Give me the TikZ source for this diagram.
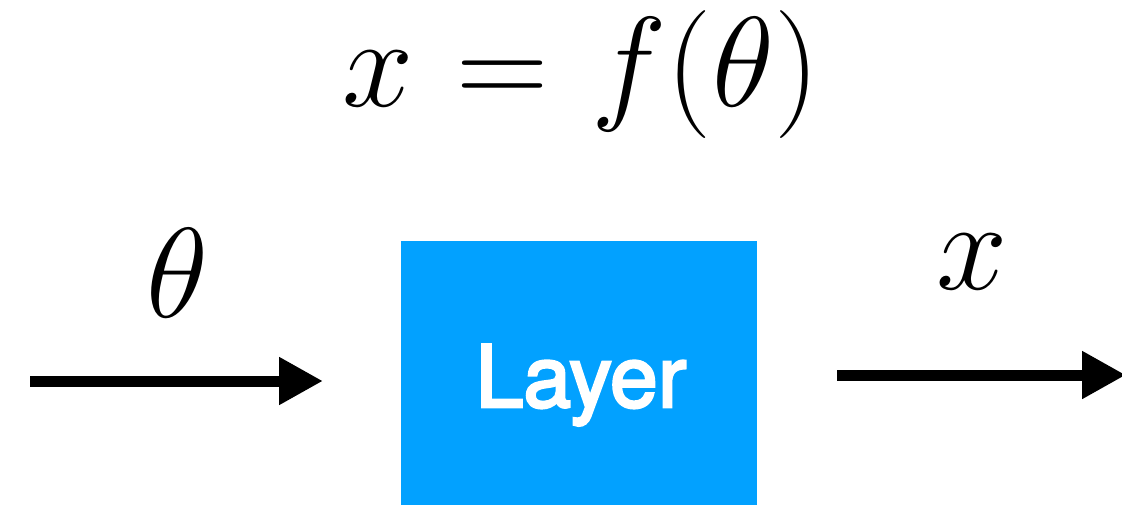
\RequirePackage{fix-cm}
\documentclass[tikz,border=0pt]{standalone}
\usepackage{fontspec}
\newfontfamily\layerfont[FakeBold=3]{TeX Gyre Heros}
\usetikzlibrary{arrows.meta}
\definecolor{boxblue}{RGB}{2,161,255}
\tikzset{
  flow/.style={line width=11pt, -{Triangle[length=44pt,width=45pt]}},
  mathlabel/.style={anchor=base, inner sep=0pt, font=\fontsize{128}{150}\selectfont},
  layerbox/.style={fill=boxblue, draw=none, minimum width=356pt, minimum height=264pt, inner sep=0pt},
  layerlabel/.style={anchor=base, inner sep=0pt, text=white, font=\fontsize{86}{100}\selectfont\layerfont}
}
\begin{document}
\begin{tikzpicture}[x=1pt, y=-1pt]
  \useasboundingbox (0,0) rectangle (1122,505);
  \node[mathlabel] (eq) at (581,107) {$x\mkern1mu=\mkern1mu f(\theta)$};
  \node[layerbox] (layer) at (579,373) {};
  \node[layerlabel] (layertext) at (581,407) {Layer};
  \node[mathlabel] (theta) at (177,317) {$\theta$};
  \node[mathlabel] (xout) at (972,289) {$x$};
  \coordinate (inStart) at (30,381);
  \coordinate (inEnd) at (323,381);
  \coordinate (outStart) at (837,375);
  \coordinate (outEnd) at (1126,375);
  \draw[flow] (inStart) -- (inEnd);
  \draw[flow] (outStart) -- (outEnd);
\end{tikzpicture}
\end{document}
